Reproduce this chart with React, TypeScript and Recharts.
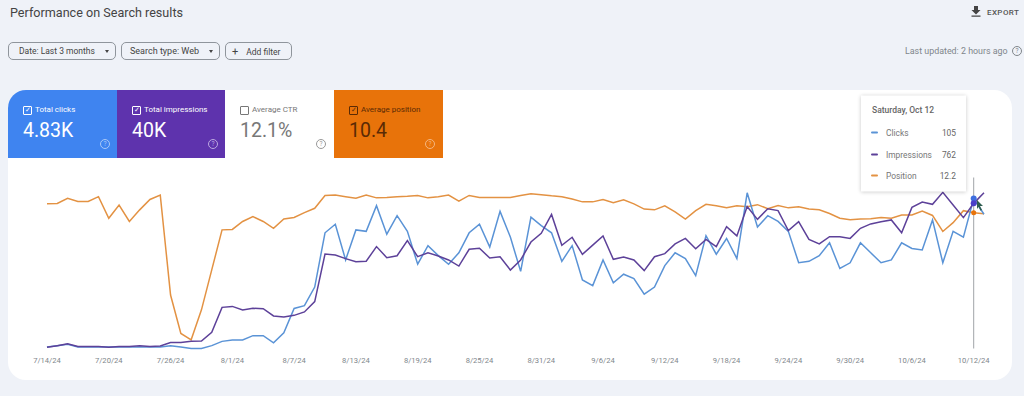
import React from 'react';
import { LineChart, Line, XAxis, YAxis, Tooltip } from 'recharts';

const dates = [
  '7/14/24','7/15/24','7/16/24','7/17/24','7/18/24','7/19/24','7/20/24','7/21/24','7/22/24','7/23/24','7/24/24','7/25/24','7/26/24','7/27/24','7/28/24','7/29/24','7/30/24','7/31/24',
  '8/1/24','8/2/24','8/3/24','8/4/24','8/5/24','8/6/24','8/7/24','8/8/24','8/9/24','8/10/24','8/11/24','8/12/24','8/13/24','8/14/24','8/15/24','8/16/24','8/17/24','8/18/24','8/19/24','8/20/24','8/21/24','8/22/24','8/23/24','8/24/24','8/25/24','8/26/24','8/27/24','8/28/24','8/29/24','8/30/24','8/31/24',
  '9/1/24','9/2/24','9/3/24','9/4/24','9/5/24','9/6/24','9/7/24','9/8/24','9/9/24','9/10/24','9/11/24','9/12/24','9/13/24','9/14/24','9/15/24','9/16/24','9/17/24','9/18/24','9/19/24','9/20/24','9/21/24','9/22/24','9/23/24','9/24/24','9/25/24','9/26/24','9/27/24','9/28/24','9/29/24','9/30/24',
  '10/1/24','10/2/24','10/3/24','10/4/24','10/5/24','10/6/24','10/7/24','10/8/24','10/9/24','10/10/24','10/11/24','10/12/24','10/13/24',
];

const clicks = [
  1,2,3,1,1,1,1,1,1,1,1,1,2,1,0,0,2,5,6,6,9,9,4,11,28,30,43,81,87,62,83,
  82,100,80,93,82,59,72,65,59,67,81,87,71,96,78,54,92,86,81,61,72,48,44,62,46,52,49,38,43,58,
  67,63,51,79,66,77,63,109,85,93,89,82,60,61,65,74,56,60,74,67,60,62,74,70,69,90,60,82,78,105,94,
];

const impressions = [
  6,15,25,11,10,10,6,10,10,15,10,13,31,32,38,39,85,216,221,202,211,209,171,165,174,192,246,496,491,472,456,
  458,535,477,487,566,482,503,486,465,433,521,526,475,482,412,465,559,605,704,542,584,494,543,591,468,480,465,409,482,498,
  549,578,524,573,535,640,591,745,678,734,724,619,666,573,549,587,587,578,631,654,666,675,608,741,769,757,820,753,687,762,818,
];

const position = [
  10.0,9.9,8.6,9.4,9.4,8.2,13.6,10.3,14.4,11.5,8.9,7.8,32.8,42.4,44.0,36.5,26.5,16.5,16.4,14.4,13.2,14.4,16.1,13.8,13.4,12.2,11.1,7.9,7.8,8.2,8.6,
  7.8,8.5,8.4,8.2,8.1,7.9,8.5,8.2,7.8,9.3,7.9,8.4,8.4,8.4,8.4,7.9,7.5,7.7,8.0,8.2,8.8,9.5,9.5,8.9,9.7,9.0,10.0,11.3,11.5,10.5,
  12.0,13.8,11.7,10.1,10.5,11.0,10.5,10.7,10.2,11.2,10.4,11.0,10.7,11.3,11.5,12.4,13.6,14.0,13.8,13.7,13.4,13.6,12.8,12.8,11.8,12.9,16.9,14.7,11.7,12.2,12.5,
];

const tickLabels = ['7/14/24','7/20/24','7/26/24','8/1/24','8/7/24','8/13/24','8/19/24','8/25/24','8/31/24','9/6/24','9/12/24','9/18/24','9/24/24','9/30/24','10/6/24','10/12/24'];

const data = dates.map((date, i) => ({
  date,
  clicks: clicks[i],
  impressions: impressions[i],
  position: position[i],
}));

const BG = '#eff2f8';
const BLUE = '#5a93d6';
const PURPLE = '#5d4199';
const ORANGE = '#e39243';
const FONT = 'Roboto, sans-serif';

const Help = ({ left, top, color }: { left: number; top: number; color: string }) => (
  <div
    style={{
      position: 'absolute', left, top, width: 8, height: 8, borderRadius: '50%', border: `1px solid ${color}`,
      color, fontSize: 6.5, lineHeight: '8px', textAlign: 'center',
    }}
  >
    ?
  </div>
);

const Tile = ({ left, width, bg, label, value, color, checked, helpColor }: any) => (
  <div style={{ position: 'absolute', left, top: 90, width, height: 68, background: bg, color, borderTopLeftRadius: left === 8 ? 18 : 0 }}>
    <div
      style={{
        position: 'absolute', left: 15, top: 16, width: 7, height: 7, border: `1px solid ${color}`, borderRadius: 1,
        fontSize: 7, lineHeight: '7px', textAlign: 'center',
      }}
    >
      {checked ? '✓' : ''}
    </div>
    <div style={{ position: 'absolute', left: 27, top: 14, fontSize: 8, lineHeight: '12px', whiteSpace: 'nowrap' }}>{label}</div>
    <div style={{ position: 'absolute', left: 15, top: 29, fontSize: 19.5, lineHeight: '24px', whiteSpace: 'nowrap' }}>{value}</div>
    <Help left={left === 8 ? 92 : 91} top={49} color={helpColor} />
  </div>
);

const Chip = ({ left, width, fontSize, children }: any) => (
  <div
    style={{
      position: 'absolute', left, top: 42, width, height: 18, boxSizing: 'border-box', border: '1px solid #8f959c',
      borderRadius: 5, fontSize, lineHeight: '17px', color: '#444', whiteSpace: 'nowrap',
    }}
  >
    {children}
  </div>
);

const Caret = ({ left }: { left: number }) => (
  <span style={{ position: 'absolute', left, top: 7, width: 0, height: 0, borderLeft: '2.5px solid transparent', borderRight: '2.5px solid transparent', borderTop: '3px solid #444' }} />
);

const HoverCard = () => {
  const rows = [
    { name: 'Clicks', value: clicks[90], color: BLUE, top: 127 },
    { name: 'Impressions', value: impressions[90], color: PURPLE, top: 149 },
    { name: 'Position', value: position[90], color: ORANGE, top: 170 },
  ];
  return (
    <div style={{ width: 105, height: 96, background: '#fff', boxShadow: '0 0 4px rgba(0,0,0,0.22)', position: 'relative', fontFamily: FONT }}>
      <div style={{ position: 'absolute', left: 11, top: 9, fontSize: 8.5, lineHeight: '11px', fontWeight: 500, color: '#666', whiteSpace: 'nowrap' }}>Saturday, Oct 12</div>
      {rows.map((r) => (
        <React.Fragment key={r.name}>
          <div style={{ position: 'absolute', left: 10, top: r.top - 95 + 4, width: 7, height: 2, borderRadius: 1, background: r.color }} />
          <div style={{ position: 'absolute', left: 25, top: r.top - 95, fontSize: 8.4, lineHeight: '11px', color: '#777' }}>{r.name}</div>
          <div style={{ position: 'absolute', right: 10, top: r.top - 95, fontSize: 8.4, lineHeight: '11px', color: '#666' }}>{r.value}</div>
        </React.Fragment>
      ))}
    </div>
  );
};

export default function App() {
  return (
    <div style={{ position: 'absolute', left: 0, top: 0, width: 1024, height: 396, background: BG, overflow: 'hidden', fontFamily: FONT }}>
      <div style={{ position: 'absolute', left: 10, top: 5, fontSize: 12.6, lineHeight: '16px', color: '#444' }}>Performance on Search results</div>

      <svg style={{ position: 'absolute', left: 970, top: 5 }} width={12} height={13} viewBox="0 0 12 13">
        <path d="M4 1h4v4h2.5L6 9.5 1.500 5H4z M1.500 10.500h9v1.200h-9z" fill="#444" />
      </svg>
      <div style={{ position: 'absolute', left: 987, top: 7, fontSize: 8, lineHeight: '11px', fontWeight: 500, letterSpacing: 0.4, color: '#555' }}>EXPORT</div>

      <Chip left={8} width={108} fontSize={8.5}><span style={{ marginLeft: 10 }}>Date: Last 3 months</span><Caret left={96} /></Chip>
      <Chip left={121} width={99} fontSize={9}><span style={{ marginLeft: 8 }}>Search type: Web</span><Caret left={87} /></Chip>
      <Chip left={225} width={67} fontSize={8.5}>
        <span style={{ marginLeft: 6, fontSize: 11 }}>+</span>
        <span style={{ marginLeft: 8 }}>Add filter</span>
      </Chip>

      <div style={{ position: 'absolute', left: 905, top: 45, fontSize: 8.9, lineHeight: '12px', color: '#80868b', whiteSpace: 'nowrap' }}>Last updated: 2 hours ago</div>
      <Help left={1012} top={46} color="#80868b" />

      <div style={{ position: 'absolute', left: 8, top: 90, width: 1004, height: 290, background: '#fff', borderRadius: 18 }} />

      <Tile left={8} width={109} bg="#3f84f0" label="Total clicks" value="4.83K" color="#fff" checked helpColor="#a9c8f7" />
      <Tile left={117} width={108} bg="#5e33ad" label="Total impressions" value="40K" color="#fff" checked helpColor="#bca8e0" />
      <Tile left={225} width={109} bg="#fff" label="Average CTR" value="12.1%" color="#777" helpColor="#999" />
      <Tile left={334} width={109} bg="#e8730a" label="Average position" value="10.4" color="#5a2a05" checked helpColor="#f5b67f" />

      <div style={{ position: 'absolute', left: 0, top: 0 }}>
        <LineChart width={1024} height={396} data={data} margin={{ top: 177.5, left: 47, right: 40, bottom: 17.5 }}>
          <XAxis
            dataKey="date"
            ticks={tickLabels}
            interval={0}
            height={30}
            axisLine={false}
            tickLine={false}
            tickMargin={3}
            tick={{ fontSize: 7.6, fill: '#80868b', fontFamily: FONT }}
          />
          <YAxis yAxisId="clicks" hide domain={[0, 119.7]} />
          <YAxis yAxisId="impressions" hide domain={[0, 897.75]} />
          <YAxis yAxisId="position" hide reversed domain={[3.41, 46.16]} />
          <Tooltip
            active
            defaultIndex={90}
            position={{ x: 861, y: 95.5 }}
            allowEscapeViewBox={{ x: true, y: true }}
            content={<HoverCard />}
            cursor={{ stroke: '#a0a4a8', strokeWidth: 1 }}
            isAnimationActive={false}
          />
          <Line yAxisId="position" dataKey="position" type="linear" stroke={ORANGE} strokeWidth={1.5} dot={false} activeDot={{ r: 2.5, fill: '#e8730a', stroke: 'none' }} isAnimationActive={false} />
          <Line yAxisId="clicks" dataKey="clicks" type="linear" stroke={BLUE} strokeWidth={1.5} dot={false} activeDot={{ r: 3, fill: '#3f6fe0', stroke: 'none' }} isAnimationActive={false} />
          <Line yAxisId="impressions" dataKey="impressions" type="linear" stroke={PURPLE} strokeWidth={1.5} dot={false} activeDot={{ r: 3, fill: '#4b3fc8', stroke: 'none' }} isAnimationActive={false} />
        </LineChart>
      </div>

      <svg style={{ position: 'absolute', left: 976, top: 200 }} width={8} height={12} viewBox="0 0 8 12">
        <path d="M1 0l6 6H4l2 4-1.500.7L2.600 6.800 1 9z" fill="#2f5d50" />
      </svg>
    </div>
  );
}
